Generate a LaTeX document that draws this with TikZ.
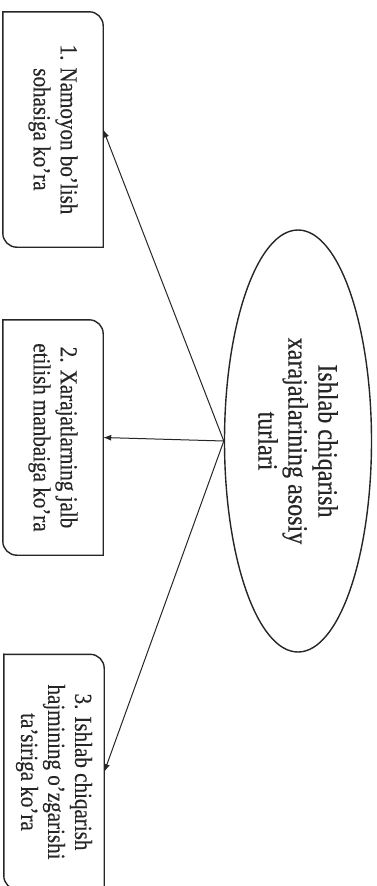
\documentclass[tikz,border=0pt]{standalone}
\usepackage{fontspec}
\setmainfont{Liberation Serif}
\newfontfamily\narrowserif[FakeStretch=0.86,FakeBold=0.4]{Liberation Serif}
\usetikzlibrary{shapes.geometric,arrows.meta}
\tikzset{
  boxnode/.style={rotate=-90, draw=none, inner sep=0pt, minimum width=235pt, minimum height=100pt,
    align=center, font=\narrowserif\fontsize{24.5}{27}\selectfont, text=black!85},
  boxline/.style={draw=black!85, line width=1.4pt, line cap=rect, rounded corners=14pt},
  ellnode/.style={rotate=-90, ellipse, draw=black!85, line width=1.4pt, inner sep=0pt,
    minimum width=422pt, minimum height=147pt, align=center,
    font=\narrowserif\fontsize{28}{30}\selectfont, text=black!85},
  conn/.style={draw=black!85, line width=1pt, -{Latex[length=8pt,width=6pt]}}
}
\begin{document}
\begin{tikzpicture}[x=1pt,y=-1pt]
\useasboundingbox (0,0) rectangle (377,886);
\fill[white] (0,0) rectangle (377,886);

\node[boxnode] (b1) at (53,129.5) {1. Namoyon bo’lish\\sohasiga ko’ra};
\node[boxnode] (b2) at (53,437.5) {2. Xarajatlarning jalb\\etilish manbaiga ko’ra};
\node[boxnode] (b3) at (54,772) {3. Ishlab chiqarish\\hajmining o’zgarishi\\ta’siriga ko’ra};

\foreach \b in {b1,b2,b3}{
  \draw[boxline] (\b.south west) -- (\b.north west) -- (\b.north east);
  \draw[boxline] (\b.north east) -- (\b.south east) -- (\b.south west);
}

\node[ellnode] (ell) at (298,441) {Ishlab chiqarish\\xarajatlarining asosiy\\turlari};

\draw[conn] (ell.south) -- (b1.north);
\draw[conn] (ell.south) -- (b2.north);
\draw[conn] (ell.south) -- (b3.north);
\end{tikzpicture}
\end{document}
